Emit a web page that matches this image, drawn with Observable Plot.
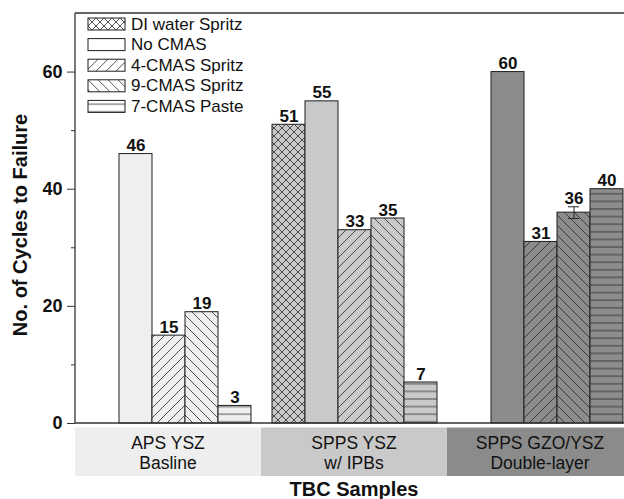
<!DOCTYPE html>
<html>
<head>
<meta charset="utf-8">
<script src="https://cdn.jsdelivr.net/npm/d3@7"></script>
<script src="https://cdn.jsdelivr.net/npm/@observablehq/plot@0.6"></script>
<style>
  html, body { margin: 0; padding: 0; background: #fff; overflow: hidden; }
  svg { max-width: none !important; display: block; }
</style>
</head>
<body>
<div id="chart"></div>
<script>
// Coating systems (x groups) and their second label line
const groups = ["APS YSZ", "SPPS YSZ", "SPPS GZO/YSZ"];
const groupNotes = ["Basline", "w/ IPBs", "Double-layer"];

// Test conditions within each group
const series = ["DI water Spritz", "No CMAS", "4-CMAS Spritz", "9-CMAS Spritz", "7-CMAS Paste"];

// Cycles to failure per condition (null = not tested)
const apsYsz = [null, 46, 15, 19, 3];
const sppsYsz = [51, 55, 33, 35, 7];
const sppsGzoYsz = [null, 60, 31, 36, 40];

// Error (± cycles) where reported
const apsYszErr = [null, null, null, null, null];
const sppsYszErr = [null, null, null, null, null];
const sppsGzoYszErr = [null, null, null, 1, null];

// Axis ticks
const yTicks = [0, 20, 40, 60];
const yMinorTicks = [10, 30, 50];

// Styling
const groupFills = ["#efefef", "#c9c9c9", "#8c8c8c"];
const hatchKinds = ["cross", "none", "slash", "back", "horiz"];
const ink = "#262626";

const values = [apsYsz, sppsYsz, sppsGzoYsz];
const errors = [apsYszErr, sppsYszErr, sppsGzoYszErr];

const rows = groups.flatMap((g, gi) =>
  values[gi].map((v, si) => ({group: g, gi, series: series[si], si, value: v, err: errors[gi][si]}))
).filter(d => d.value != null);
const errRows = rows.filter(d => d.err != null);

const W = 633, H = 499, mL = 75, mR = 0, mT = 13, mB = 76;

const plot = Plot.plot({
  width: W,
  height: H,
  marginLeft: mL,
  marginRight: mR,
  marginTop: mT,
  marginBottom: mB,
  style: {fontFamily: "'Liberation Sans', Arial, sans-serif", background: "#fff", color: "#111"},
  fx: {domain: groups, padding: 0, axis: null},
  x: {domain: series, paddingInner: 0, paddingOuter: 0.268, axis: null},
  y: {domain: [0, 70], axis: null},
  color: {type: "identity"},
  marks: [
    Plot.barY(rows, {
      fx: "group", x: "series", y: "value",
      fill: d => `url(#hatch-${d.gi}-${d.si})`,
      stroke: "#1e1e1e", strokeWidth: 1
    }),
    Plot.ruleX(errRows, {fx: "group", x: "series", y1: d => d.value - d.err, y2: d => d.value + d.err, stroke: ink, strokeWidth: 1}),
    Plot.tickY(errRows, {fx: "group", x: "series", y: d => d.value + d.err, insetLeft: 11, insetRight: 11, stroke: ink, strokeWidth: 1}),
    Plot.tickY(errRows, {fx: "group", x: "series", y: d => d.value - d.err, insetLeft: 11, insetRight: 11, stroke: ink, strokeWidth: 1}),
    Plot.text(rows, {
      fx: "group", x: "series", y: d => d.value + (d.err || 0),
      text: d => String(d.value),
      lineAnchor: "bottom", dy: -3,
      fontSize: 17, fontWeight: "bold", fill: "#111"
    }),
    Plot.axisY({ticks: yTicks, tickSize: 8, tickPadding: 5, fontSize: 18, fontWeight: "bold", label: null, stroke: "#333", fill: "#111"}),
    Plot.axisY({ticks: yMinorTicks, tickSize: 4, text: null, label: null, stroke: "#333"})
  ]
});

document.getElementById("chart").appendChild(plot);

const svg = d3.select(plot);
const y = plot.scale("y");
const fx = plot.scale("fx");
const y0 = y.apply(0), yTop = y.apply(70);

// Hatch patterns
const defs = svg.insert("defs", ":first-child");
function addHatch(id, bg, kind) {
  const s = kind === "cross" ? 8 : kind === "horiz" ? 7.6 : 10;
  const p = defs.append("pattern")
    .attr("id", id)
    .attr("patternUnits", "userSpaceOnUse")
    .attr("width", s).attr("height", s);
  p.append("rect").attr("width", s).attr("height", s).attr("fill", bg);
  let d = null;
  if (kind === "cross") d = `M0,0L${s},${s}M${s},0L0,${s}`;
  else if (kind === "slash") d = `M0,${s}L${s},0M-1,1L1,-1M${s - 1},${s + 1}L${s + 1},${s - 1}`;
  else if (kind === "back") d = `M0,0L${s},${s}M${s - 1},-1L${s + 1},1M-1,${s - 1}L1,${s + 1}`;
  else if (kind === "horiz") d = `M0,${s / 2}H${s}`;
  if (d) p.append("path").attr("d", d).attr("stroke", "#2a2a2a").attr("stroke-width", 0.8).attr("fill", "none");
}
groupFills.forEach((c, gi) => hatchKinds.forEach((k, si) => addHatch(`hatch-${gi}-${si}`, c, k)));
hatchKinds.forEach((k, si) => addHatch(`hatch-key-${si}`, "#ffffff", k));

// Frame: left axis line, top line, baseline
const frame = svg.append("g").attr("stroke", "#333").attr("stroke-width", 1.3);
frame.append("line").attr("x1", mL).attr("x2", mL).attr("y1", yTop).attr("y2", y0);
frame.append("line").attr("x1", mL).attr("x2", W).attr("y1", yTop).attr("y2", yTop);
frame.append("line").attr("x1", mL).attr("x2", W).attr("y1", y0).attr("y2", y0);

// Group label boxes under the baseline
const boxTop = y0 + 4.5, boxBottom = y0 + 53;
const bandFills = ["#eeeeee", "#c9c9c9", "#8b8b8b"];
const boxes = svg.append("g");
groups.forEach((g, gi) => {
  const x0 = fx.apply(g), bw = fx.bandwidth;
  boxes.append("rect")
    .attr("x", x0).attr("y", boxTop)
    .attr("width", bw).attr("height", boxBottom - boxTop)
    .attr("fill", bandFills[gi]);
  const t = boxes.append("text")
    .attr("x", x0 + bw / 2)
    .attr("text-anchor", "middle")
    .attr("font-size", 17.5)
    .attr("fill", "#111");
  t.append("tspan").attr("x", x0 + bw / 2).attr("y", boxTop + 21).text(g);
  t.append("tspan").attr("x", x0 + bw / 2).attr("y", boxTop + 41).text(groupNotes[gi]);
});

// Axis titles
svg.append("text")
  .attr("x", (mL + W) / 2).attr("y", H - 3)
  .attr("text-anchor", "middle")
  .attr("font-size", 20).attr("font-weight", "bold").attr("fill", "#111")
  .text("TBC Samples");
svg.append("text")
  .attr("transform", `translate(20,${(yTop + y0) / 2 + 7}) rotate(-90)`)
  .attr("text-anchor", "middle").attr("dominant-baseline", "central")
  .attr("font-size", 20).attr("font-weight", "bold").attr("fill", "#111")
  .text("No. of Cycles to Failure");

// Legend
const legend = svg.append("g").attr("transform", `translate(88,18)`);
series.forEach((s, si) => {
  const row = legend.append("g").attr("transform", `translate(0,${si * 20.6})`);
  row.append("rect").attr("width", 37).attr("height", 12)
    .attr("fill", `url(#hatch-key-${si})`).attr("stroke", "#1e1e1e").attr("stroke-width", 1);
  row.append("text").attr("x", 43).attr("y", 6)
    .attr("text-anchor", "start")
    .attr("dominant-baseline", "central")
    .attr("font-size", 17).attr("fill", "#111").text(s);
});
</script>
</body>
</html>
